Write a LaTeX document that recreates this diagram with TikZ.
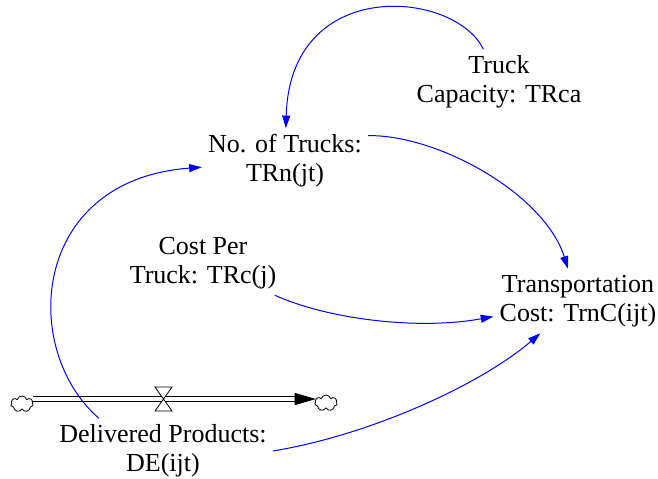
\documentclass[tikz,border=0pt]{standalone}
\usepackage{fontspec}
\setmainfont{Liberation Serif}
\usetikzlibrary{arrows.meta,shapes.symbols}

\begin{document}
\begin{tikzpicture}[x=0.75pt,y=0.75pt,yscale=-1,xscale=1,
  var/.style={anchor=center,inner sep=0.75pt,outer sep=4pt,align=center,font=\fontsize{19.5}{21.75}\selectfont},
  link/.style={color={rgb, 255:red, 0; green, 0; blue, 255},draw opacity=1,line width=0.75pt,-{Triangle[length=9.5pt,width=6pt]}},
  pipe/.style={double,double distance=2.6pt,line width=0.75pt,-{Triangle[length=16pt,width=9pt]}},
  sink/.style={cloud,cloud puffs=7,draw,fill=white,inner sep=0pt,minimum width=17pt,minimum height=12pt,line width=0.6pt}]
\useasboundingbox (0,0) rectangle (658,479);

% Text Node
\draw (499,82) node [var] (trcap) {Truck\\Capacity: TRca};
% Text Node
\draw (285,161) node [var] (notrucks) {No. of Trucks:\\TRn(jt)};
% Text Node
\draw (203,263) node [var] (costper) {Cost Per\\Truck: TRc(j)};
% Text Node
\draw (578,301) node [var] (trancost) {Transportation\\Cost: TrnC(ijt)};
% Text Node
\draw (163,451) node [var] (delprod) {Delivered Products:\\DE(ijt)};

%Straight Lines
\draw [pipe] (33,399) coordinate (pipeL) -- (316,399) coordinate (pipeR) ;
%Shape: Cloud
\draw (22,404) node [sink] (srcL) {};
%Shape: Cloud
\draw (326,403) node [sink] (snkR) {};
%Shape: Valve
\draw [fill=white,line width=0.6pt] (155,387) -- (172,387) -- (155,411) -- (172,411) -- cycle ;

%Curve Lines
\draw [link] (trcap) .. controls (455,-10) and (290,-25) .. (notrucks) ;
%Curve Lines
\draw [link] (delprod.153) .. controls (20,350) and (30,180) .. (notrucks) ;
%Curve Lines
\draw [link] (notrucks.17) .. controls (440,135) and (545,195) .. (trancost) ;
%Curve Lines
\draw [link] (costper) .. controls (330,320) and (420,330) .. (trancost) ;
%Curve Lines
\draw [link] (delprod.east) .. controls (370,435) and (480,385) .. (trancost) ;

\end{tikzpicture}
\end{document}
